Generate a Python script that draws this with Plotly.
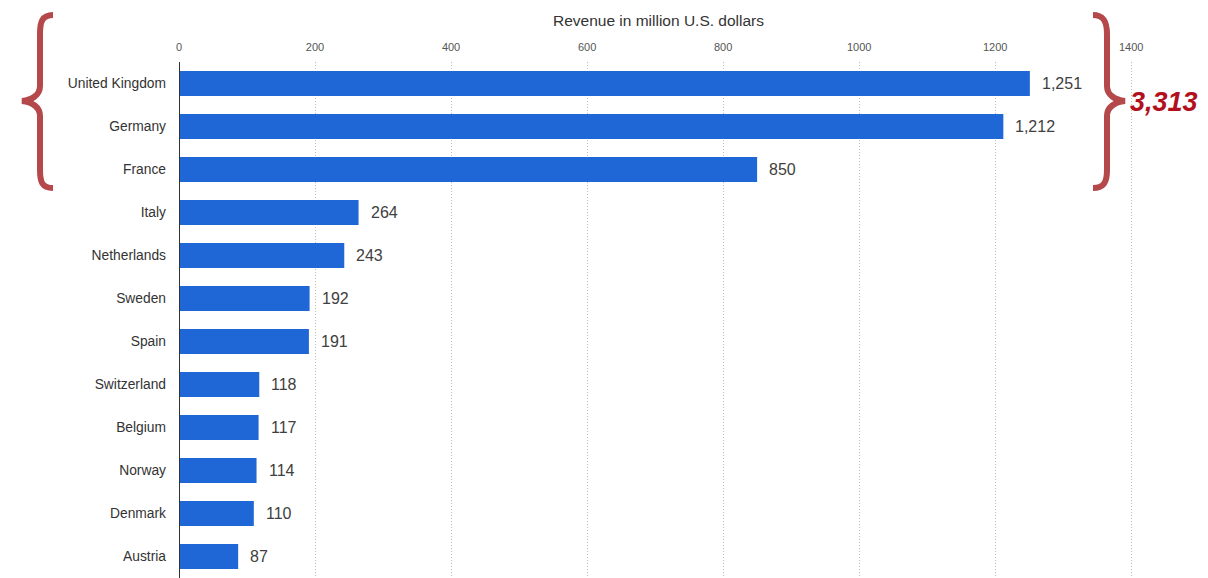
import plotly.graph_objects as go

countries = ["United Kingdom", "Germany", "France", "Italy", "Netherlands", "Sweden",
             "Spain", "Switzerland", "Belgium", "Norway", "Denmark", "Austria"]
revenue = [1251, 1212, 850, 264, 243, 192, 191, 118, 117, 114, 110, 87]
x_ticks = [0, 200, 400, 600, 800, 1000, 1200, 1400]
axis_title = "Revenue in million U.S. dollars"
top_n = 3

# page has an 8px body margin; figure is shifted accordingly
OFF = 8
W, H = 1208 - OFF, 578 - OFF
ML, MR, MT, MB = 179 - OFF, 70, 62 - OFF, 0
PW, PH = W - ML - MR, H - MT - MB


def fx(px):
    return (px - OFF - ML) / PW


def fy(py):
    return (H - MB - (py - OFF)) / PH


def path(points):
    out = []
    for cmd, coords in points:
        pairs = []
        for i in range(0, len(coords), 2):
            pairs.append(f"{fx(coords[i]):.5f},{fy(coords[i+1]):.5f}")
        out.append(cmd + " " + " ".join(pairs))
    return " ".join(out)


bar_color = "#1f66d6"
brace_color = "#b5484a"
FONT = "Liberation Sans, Arial"

fig = go.Figure()
fig.add_trace(go.Bar(
    x=revenue, y=countries, orientation="h",
    marker=dict(color=bar_color, line=dict(width=0)),
    width=0.58, hoverinfo="x+y",
))

for c, v in zip(countries, revenue):
    fig.add_annotation(x=v, y=c, xref="x", yref="y", text=f"{v:,}",
                       showarrow=False, xanchor="left", xshift=10,
                       font=dict(family=FONT, size=16, color="#404040"))

left_brace = [
    ("M", [53, 15]),
    ("C", [42, 15, 40, 22, 40, 34]),
    ("L", [40, 86]),
    ("C", [40, 95, 32, 100, 22, 101]),
    ("C", [32, 102, 40, 107, 40, 116]),
    ("L", [40, 170]),
    ("C", [40, 182, 42, 188, 53, 188]),
]
right_brace = [
    ("M", [1093, 15]),
    ("C", [1104, 15, 1107, 22, 1107, 34]),
    ("L", [1107, 86]),
    ("C", [1107, 95, 1115, 100, 1125, 101]),
    ("C", [1115, 102, 1107, 107, 1107, 116]),
    ("L", [1107, 170]),
    ("C", [1107, 182, 1104, 188, 1093, 188]),
]
for b in (left_brace, right_brace):
    fig.add_shape(type="path", xref="paper", yref="paper", path=path(b),
                  line=dict(color=brace_color, width=6), layer="above")

total = sum(revenue[:top_n])
fig.add_annotation(x=fx(1128), y=fy(102), xref="paper", yref="paper",
                   text=f"<b><i>{total:,}</i></b>", showarrow=False,
                   xanchor="left", yanchor="middle",
                   font=dict(family="Liberation Sans, Arial", size=27, color="#b3101e"))

fig.update_layout(
    width=W, height=H,
    margin=dict(l=ML, r=MR, t=MT, b=MB, pad=0),
    plot_bgcolor="white", paper_bgcolor="white",
    showlegend=False,
    xaxis=dict(
        side="top", range=[0, 1410], tickvals=x_ticks,
        ticktext=[str(t) for t in x_ticks],
        showgrid=True, gridcolor="#bdbdbd", griddash="1px,2px", gridwidth=1,
        zeroline=False, showline=False, ticks="",
        ticklabelstandoff=8,
        tickfont=dict(family=FONT, size=11, color="#555"),
        title=dict(text=axis_title, standoff=10,
                   font=dict(family=FONT, size=15.5, color="#333")),
    ),
    yaxis=dict(
        categoryorder="array", categoryarray=countries,
        range=[len(countries) - 0.5, -0.5],
        showgrid=False, zeroline=False, showline=False, ticks="",
        ticklabelstandoff=12,
        tickfont=dict(family=FONT, size=13.8, color="#333"),
    ),
)
fig.add_vline(x=0, line=dict(color="#333", width=2))

fig.write_html("out.html")
